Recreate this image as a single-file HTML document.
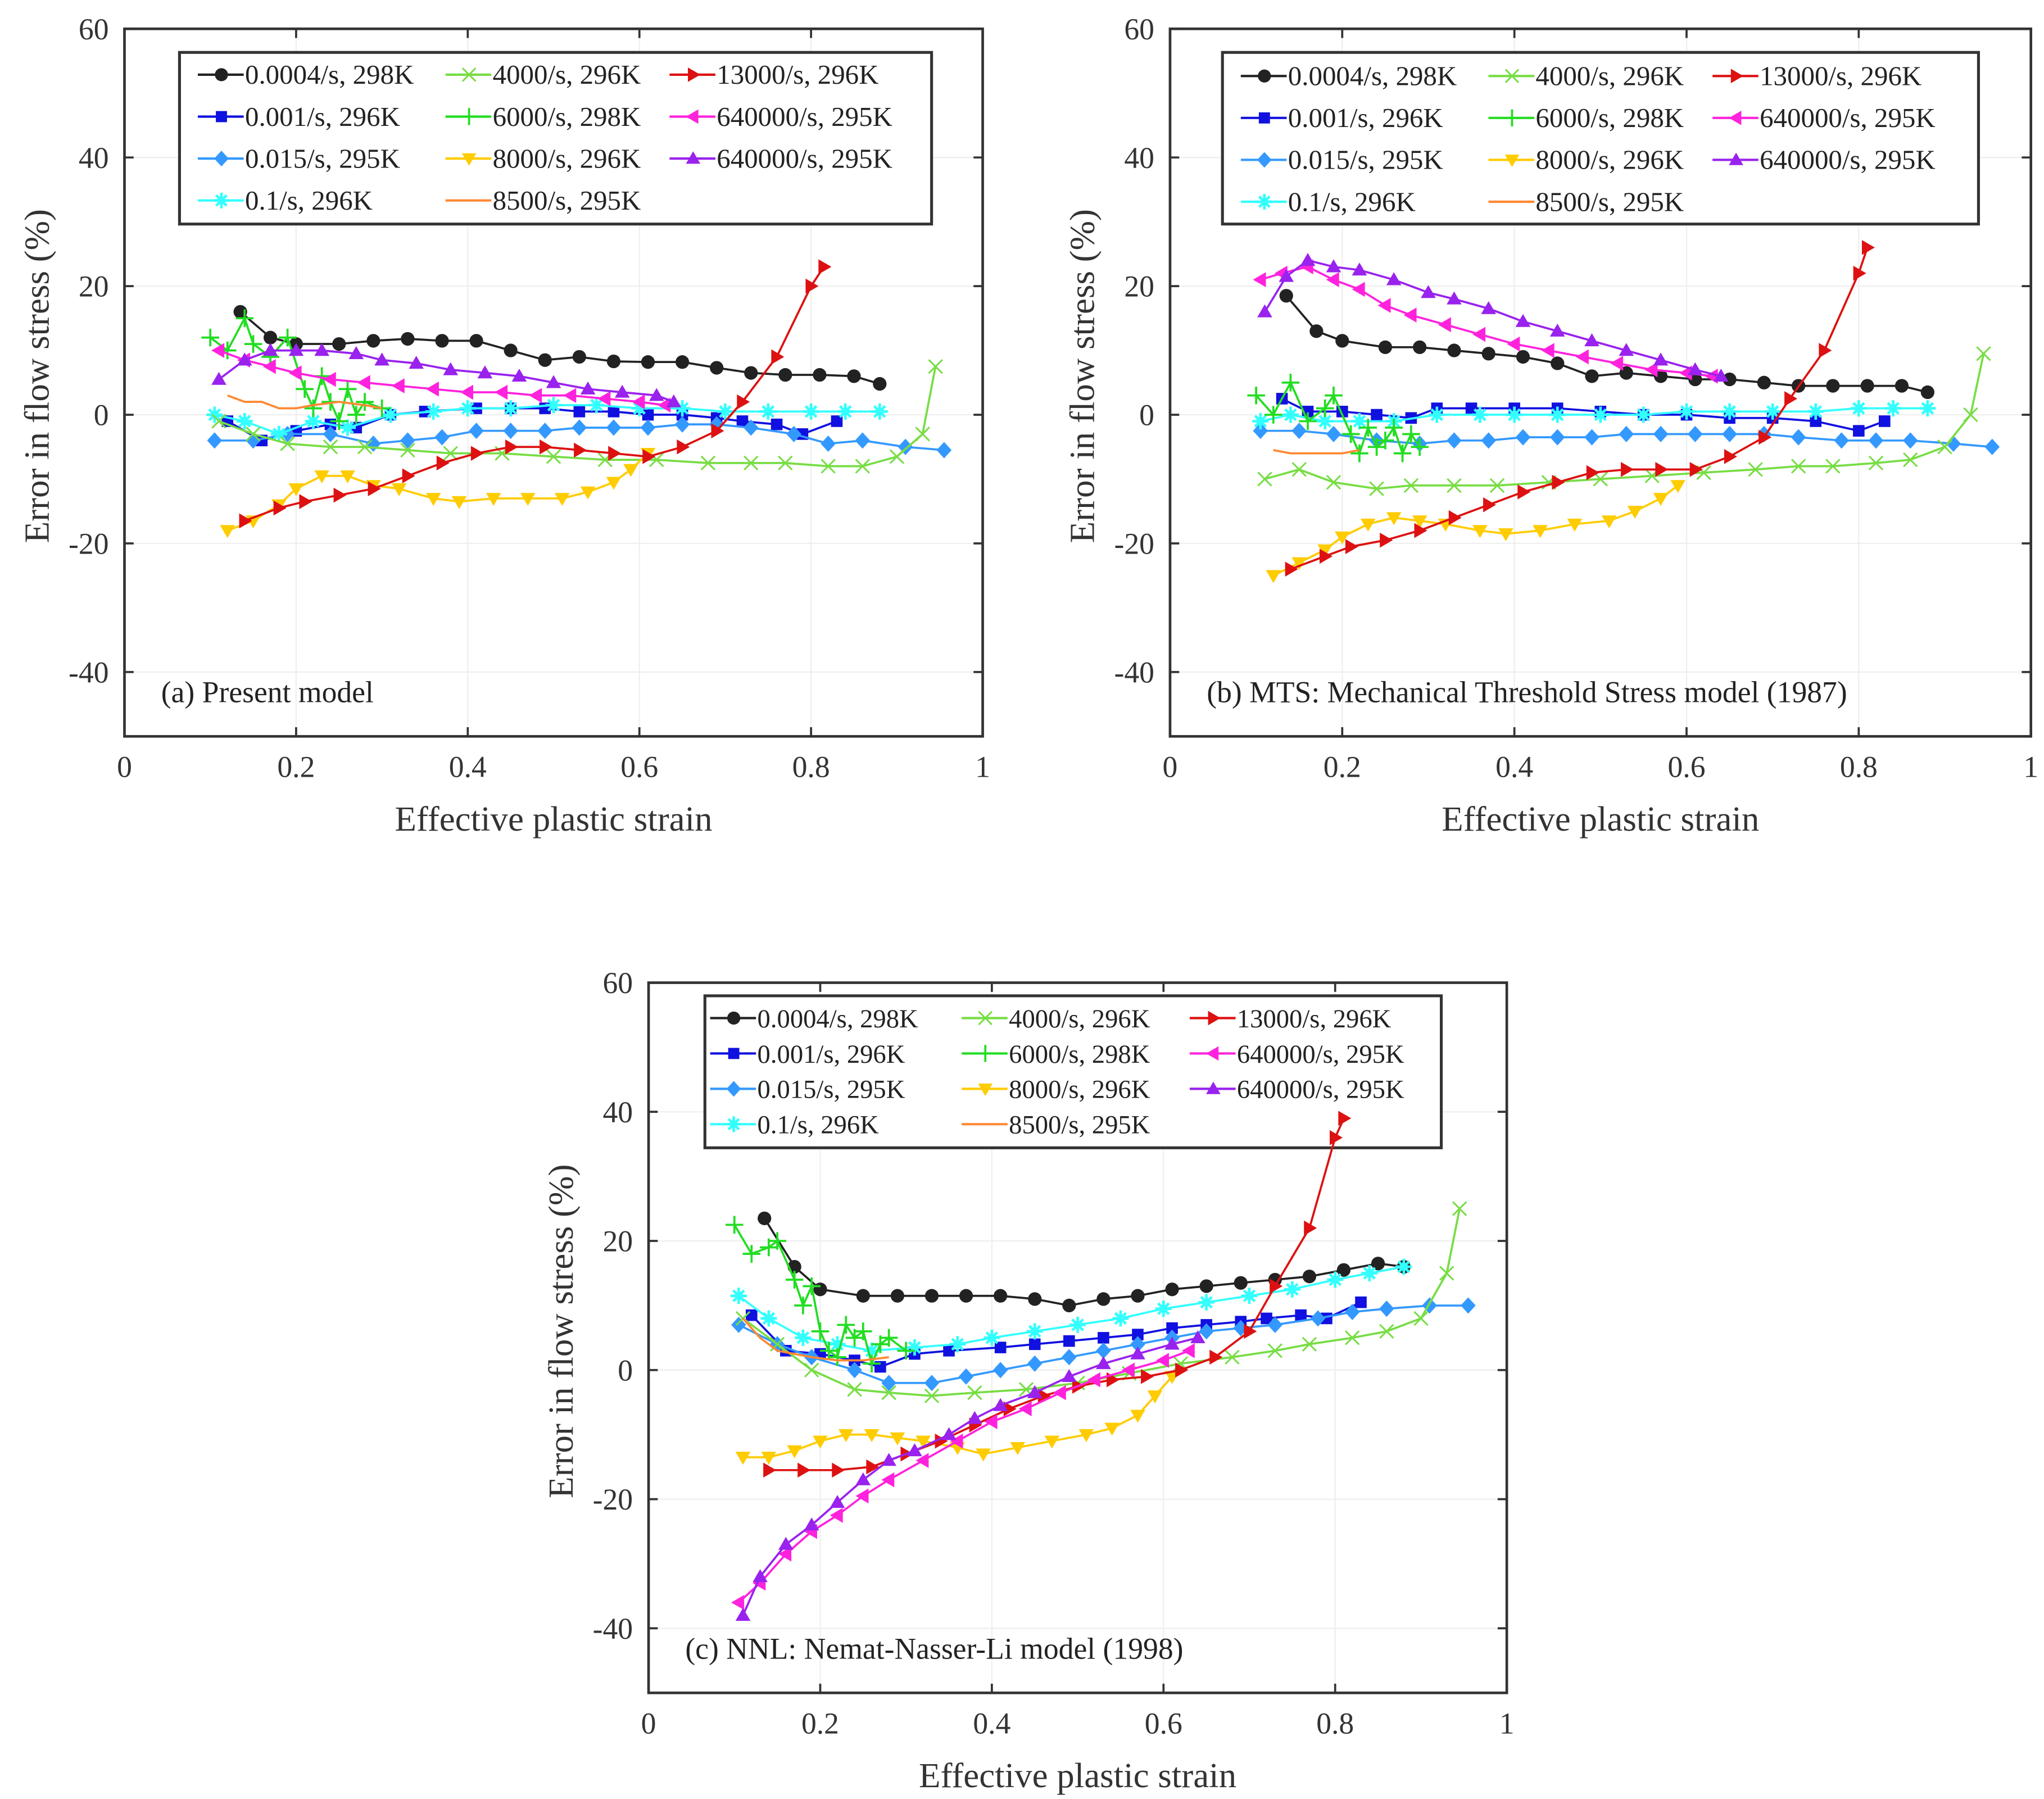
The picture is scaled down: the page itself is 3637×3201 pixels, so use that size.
<!DOCTYPE html>
<html><head><meta charset="utf-8">
<style>
html,body{margin:0;padding:0;background:#fff;}
svg{display:block;}
text{font-family:"Liberation Serif",serif;}
</style></head>
<body>
<svg id="chart" xmlns="http://www.w3.org/2000/svg" width="3637" height="3201" viewBox="0 0 1560 1373" preserveAspectRatio="none" font-family="Liberation Serif, serif"></svg>
<script>
// ---- data ----
const seriesNames = ["0.0004/s, 298K","0.001/s, 296K","0.015/s, 295K","0.1/s, 296K","4000/s, 296K","6000/s, 298K","8000/s, 296K","8500/s, 295K","13000/s, 296K","640000/s, 295K","640000/s, 295K"];
const seriesColors = ["#222222","#1010e0","#3399ff","#33ffff","#77dd44","#22dd22","#ffcc00","#ff8833","#dd1111","#ff22dd","#9922ee"];
const seriesMarkers = ["circle","square","diamond","star","x","plus","tridown","none","triright","trileft","triup"];
const xTicks = [0,0.2,0.4,0.6,0.8,1];
const xTickLabels = ["0","0.2","0.4","0.6","0.8","1"];
const yTicks = [-40,-20,0,20,40,60];
const yTickLabels = ["-40","-20","0","20","40","60"];

// panel (a) Present model
const a0 = [[0.135,16],[0.17,12],[0.2,11],[0.25,11],[0.29,11.5],[0.33,11.8],[0.37,11.5],[0.41,11.5],[0.45,10],[0.49,8.5],[0.53,9],[0.57,8.3],[0.61,8.2],[0.65,8.2],[0.69,7.3],[0.73,6.5],[0.77,6.2],[0.81,6.2],[0.85,6],[0.88,4.8]];
const a1 = [[0.12,-1],[0.16,-4],[0.2,-2.5],[0.24,-1.5],[0.27,-2],[0.31,0],[0.35,0.5],[0.41,1],[0.45,1],[0.49,1],[0.53,0.5],[0.57,0.5],[0.61,0],[0.65,0],[0.69,-0.5],[0.72,-1],[0.76,-1.5],[0.79,-3],[0.83,-1]];
const a2 = [[0.105,-4],[0.15,-4],[0.19,-3],[0.24,-3],[0.29,-4.5],[0.33,-4],[0.37,-3.5],[0.41,-2.5],[0.45,-2.5],[0.49,-2.5],[0.53,-2],[0.57,-2],[0.61,-2],[0.65,-1.5],[0.69,-1.5],[0.73,-2],[0.78,-3],[0.82,-4.5],[0.86,-4],[0.91,-5],[0.955,-5.5]];
const a3 = [[0.105,0],[0.14,-1],[0.18,-3],[0.22,-1],[0.26,-2],[0.31,0],[0.36,0.5],[0.4,1],[0.45,1],[0.5,1.5],[0.55,1.5],[0.6,1],[0.65,1],[0.7,0.5],[0.75,0.5],[0.8,0.5],[0.84,0.5],[0.88,0.5]];
const a4 = [[0.11,-1],[0.15,-3],[0.19,-4.5],[0.24,-5],[0.28,-5],[0.33,-5.5],[0.38,-6],[0.44,-6],[0.5,-6.5],[0.56,-7],[0.62,-7],[0.68,-7.5],[0.73,-7.5],[0.77,-7.5],[0.82,-8],[0.86,-8],[0.9,-6.5],[0.93,-3],[0.945,7.5]];
const a5 = [[0.1,12],[0.12,10],[0.14,15],[0.15,11],[0.17,9],[0.19,12],[0.21,4],[0.22,1],[0.23,6],[0.24,2],[0.25,-1],[0.26,4],[0.27,0],[0.28,2],[0.3,1]];
const a6 = [[0.12,-18],[0.15,-16.5],[0.18,-14],[0.2,-11.5],[0.23,-9.5],[0.26,-9.5],[0.29,-11],[0.32,-11.5],[0.36,-13],[0.39,-13.5],[0.43,-13],[0.47,-13],[0.51,-13],[0.54,-12],[0.57,-10.5],[0.59,-8.5],[0.61,-6]];
const a7 = [[0.12,3],[0.14,2],[0.16,2],[0.18,1],[0.2,1],[0.22,1.5],[0.25,2],[0.28,1.5],[0.3,1]];
const a8 = [[0.14,-16.5],[0.18,-14.5],[0.21,-13.5],[0.25,-12.5],[0.29,-11.5],[0.33,-9.5],[0.37,-7.5],[0.41,-6],[0.45,-5],[0.49,-5],[0.53,-5.5],[0.57,-6],[0.61,-6.5],[0.65,-5],[0.69,-2.5],[0.72,2],[0.76,9],[0.8,20],[0.815,23]];
const a9 = [[0.11,10],[0.14,8.5],[0.17,7.5],[0.2,6.5],[0.24,5.5],[0.28,5],[0.32,4.5],[0.36,4],[0.4,3.5],[0.44,3.5],[0.48,3],[0.52,3],[0.56,2.5],[0.6,2],[0.63,1.5]];
const a10 = [[0.11,5.5],[0.14,8.5],[0.17,10],[0.2,10],[0.23,10],[0.27,9.5],[0.3,8.5],[0.34,8],[0.38,7],[0.42,6.5],[0.46,6],[0.5,5],[0.54,4],[0.58,3.5],[0.62,3],[0.64,2]];

// panel (b) MTS
const b0 = [[0.135,18.5],[0.17,13],[0.2,11.5],[0.25,10.5],[0.29,10.5],[0.33,10],[0.37,9.5],[0.41,9],[0.45,8],[0.49,6],[0.53,6.5],[0.57,6],[0.61,5.5],[0.65,5.5],[0.69,5],[0.73,4.5],[0.77,4.5],[0.81,4.5],[0.85,4.5],[0.88,3.5]];
const b1 = [[0.13,2.5],[0.16,0.5],[0.2,0.5],[0.24,0],[0.28,-0.5],[0.31,1],[0.35,1],[0.4,1],[0.45,1],[0.5,0.5],[0.55,0],[0.6,0],[0.65,-0.5],[0.7,-0.5],[0.75,-1],[0.8,-2.5],[0.83,-1]];
const b2 = [[0.105,-2.5],[0.15,-2.5],[0.19,-3],[0.24,-4],[0.29,-4.5],[0.33,-4],[0.37,-4],[0.41,-3.5],[0.45,-3.5],[0.49,-3.5],[0.53,-3],[0.57,-3],[0.61,-3],[0.65,-3],[0.69,-3],[0.73,-3.5],[0.78,-4],[0.82,-4],[0.86,-4],[0.91,-4.5],[0.955,-5]];
const b3 = [[0.105,-1],[0.14,0],[0.18,-1],[0.22,-1],[0.26,-1],[0.31,0],[0.36,0],[0.4,0],[0.45,0],[0.5,0],[0.55,0],[0.6,0.5],[0.65,0.5],[0.7,0.5],[0.75,0.5],[0.8,1],[0.84,1],[0.88,1]];
const b4 = [[0.11,-10],[0.15,-8.5],[0.19,-10.5],[0.24,-11.5],[0.28,-11],[0.33,-11],[0.38,-11],[0.44,-10.5],[0.5,-10],[0.56,-9.5],[0.62,-9],[0.68,-8.5],[0.73,-8],[0.77,-8],[0.82,-7.5],[0.86,-7],[0.9,-5],[0.93,0],[0.945,9.5]];
const b5 = [[0.1,3],[0.12,0],[0.14,5],[0.16,-1],[0.18,1],[0.19,3],[0.21,-3],[0.22,-6],[0.23,-2],[0.24,-5],[0.25,-4],[0.26,-2],[0.27,-6],[0.28,-3],[0.29,-5]];
const b6 = [[0.12,-25],[0.15,-23],[0.18,-21],[0.2,-19],[0.23,-17],[0.26,-16],[0.29,-16.5],[0.32,-17],[0.36,-18],[0.39,-18.5],[0.43,-18],[0.47,-17],[0.51,-16.5],[0.54,-15],[0.57,-13],[0.59,-11]];
const b7 = [[0.12,-5.5],[0.14,-6],[0.16,-6],[0.18,-6],[0.2,-6],[0.22,-5.5]];
const b8 = [[0.14,-24],[0.18,-22],[0.21,-20.5],[0.25,-19.5],[0.29,-18],[0.33,-16],[0.37,-14],[0.41,-12],[0.45,-10.5],[0.49,-9],[0.53,-8.5],[0.57,-8.5],[0.61,-8.5],[0.65,-6.5],[0.69,-3.5],[0.72,2.5],[0.76,10],[0.8,22],[0.81,26]];
const b9 = [[0.105,21],[0.13,22],[0.16,23],[0.19,21],[0.22,19.5],[0.25,17],[0.28,15.5],[0.32,14],[0.36,12.5],[0.4,11],[0.44,10],[0.48,9],[0.52,8],[0.56,7],[0.6,6.5],[0.63,6]];
const b10 = [[0.11,16],[0.135,21.5],[0.16,24],[0.19,23],[0.22,22.5],[0.26,21],[0.3,19],[0.33,18],[0.37,16.5],[0.41,14.5],[0.45,13],[0.49,11.5],[0.53,10],[0.57,8.5],[0.61,7],[0.64,6]];

// panel (c) NNL
const c0 = [[0.135,23.5],[0.17,16],[0.2,12.5],[0.25,11.5],[0.29,11.5],[0.33,11.5],[0.37,11.5],[0.41,11.5],[0.45,11],[0.49,10],[0.53,11],[0.57,11.5],[0.61,12.5],[0.65,13],[0.69,13.5],[0.73,14],[0.77,14.5],[0.81,15.5],[0.85,16.5],[0.88,16]];
const c1 = [[0.12,8.5],[0.16,3],[0.2,2.5],[0.24,1.5],[0.27,0.5],[0.31,2.5],[0.35,3],[0.41,3.5],[0.45,4],[0.49,4.5],[0.53,5],[0.57,5.5],[0.61,6.5],[0.65,7],[0.69,7.5],[0.72,8],[0.76,8.5],[0.79,8],[0.83,10.5]];
const c2 = [[0.105,7],[0.15,4],[0.19,2],[0.24,0],[0.28,-2],[0.33,-2],[0.37,-1],[0.41,0],[0.45,1],[0.49,2],[0.53,3],[0.57,4],[0.61,5],[0.65,6],[0.69,6.5],[0.73,7],[0.78,8],[0.82,9],[0.86,9.5],[0.91,10],[0.955,10]];
const c3 = [[0.105,11.5],[0.14,8],[0.18,5],[0.22,4],[0.26,3],[0.31,3.5],[0.36,4],[0.4,5],[0.45,6],[0.5,7],[0.55,8],[0.6,9.5],[0.65,10.5],[0.7,11.5],[0.75,12.5],[0.8,14],[0.84,15],[0.88,16]];
const c4 = [[0.11,8],[0.15,4],[0.19,0],[0.24,-3],[0.28,-3.5],[0.33,-4],[0.38,-3.5],[0.44,-3],[0.5,-2],[0.56,-0.5],[0.62,1],[0.68,2],[0.73,3],[0.77,4],[0.82,5],[0.86,6],[0.9,8],[0.93,15],[0.945,25]];
const c5 = [[0.1,22.5],[0.12,18],[0.14,19],[0.15,20],[0.17,14],[0.18,10],[0.19,13],[0.2,6],[0.21,3],[0.22,2],[0.23,7],[0.24,5],[0.25,6],[0.26,1],[0.27,4],[0.28,5],[0.3,3]];
const c6 = [[0.11,-13.5],[0.14,-13.5],[0.17,-12.5],[0.2,-11],[0.23,-10],[0.26,-10],[0.29,-10.5],[0.32,-11],[0.36,-12],[0.39,-13],[0.43,-12],[0.47,-11],[0.51,-10],[0.54,-9],[0.57,-7],[0.59,-4],[0.61,-1]];
const c7 = [[0.11,8],[0.13,5],[0.15,3],[0.17,2.5],[0.19,2],[0.22,1.5],[0.25,1.5],[0.28,2]];
const c8 = [[0.14,-15.5],[0.18,-15.5],[0.22,-15.5],[0.26,-15],[0.3,-13],[0.34,-11],[0.38,-8.5],[0.42,-6],[0.46,-4],[0.5,-2.5],[0.54,-1.5],[0.58,-1],[0.62,0],[0.66,2],[0.7,6],[0.73,13],[0.77,22],[0.8,36],[0.81,39]];
const c9 = [[0.105,-36],[0.13,-33],[0.16,-28.5],[0.19,-25],[0.22,-22.5],[0.25,-19.5],[0.28,-17],[0.32,-14],[0.36,-11],[0.4,-8],[0.44,-6],[0.48,-3.5],[0.52,-1.5],[0.56,0],[0.6,1.5],[0.63,3]];
const c10 = [[0.11,-38],[0.13,-32],[0.16,-27],[0.19,-24],[0.22,-20.5],[0.25,-17],[0.28,-14],[0.31,-12.5],[0.35,-10],[0.38,-7.5],[0.41,-5.5],[0.45,-3.5],[0.49,-1],[0.53,1],[0.57,2.5],[0.61,4],[0.64,5]];

const panelA = [a0,a1,a2,a3,a4,a5,a6,a7,a8,a9,a10];
const panelB = [b0,b1,b2,b3,b4,b5,b6,b7,b8,b9,b10];
const panelC = [c0,c1,c2,c3,c4,c5,c6,c7,c8,c9,c10];

// ---- drawing ----
const NS = "http://www.w3.org/2000/svg";
const svg = document.getElementById('chart');
const FONT = '"Liberation Serif", serif';
function mk(tag, attrs, parent){
  const e = document.createElementNS(NS, tag);
  for (const k in attrs) e.setAttribute(k, attrs[k]);
  if (tag === 'text') e.setAttribute('font-family', FONT);
  (parent||svg).appendChild(e);
  return e;
}
function marker(g, type, x, y, color, r){
  let e = null;
  if (type === 'circle') e = mk('circle',{cx:x,cy:y,r:r,fill:color},g);
  else if (type === 'square') e = mk('rect',{x:x-r*0.85,y:y-r*0.85,width:r*1.7,height:r*1.7,fill:color},g);
  else if (type === 'diamond') e = mk('polygon',{points:`${x},${y-r*1.2} ${x+r*1.1},${y} ${x},${y+r*1.2} ${x-r*1.1},${y}`,fill:color},g);
  else if (type === 'star') { e = mk('path',{d:`M${x-r*1.2},${y}H${x+r*1.2}M${x},${y-r*1.2}V${y+r*1.2}M${x-r*0.8},${y-r*0.8}L${x+r*0.8},${y+r*0.8}M${x-r*0.8},${y+r*0.8}L${x+r*0.8},${y-r*0.8}`,stroke:color,'stroke-width':2,fill:'none'},g); mk('circle',{cx:x,cy:y,r:r*0.6,fill:color},g); }
  else if (type === 'x') e = mk('path',{d:`M${x-r},${y-r}L${x+r},${y+r}M${x-r},${y+r}L${x+r},${y-r}`,stroke:color,'stroke-width':1.3,fill:'none'},g);
  else if (type === 'plus') e = mk('path',{d:`M${x-r*1.3},${y}H${x+r*1.3}M${x},${y-r*1.3}V${y+r*1.3}`,stroke:color,'stroke-width':1.6,fill:'none'},g);
  else if (type === 'tridown') e = mk('polygon',{points:`${x-r*1.1},${y-r*0.8} ${x+r*1.1},${y-r*0.8} ${x},${y+r*1.1}`,fill:color},g);
  else if (type === 'triup') e = mk('polygon',{points:`${x-r*1.1},${y+r*0.8} ${x+r*1.1},${y+r*0.8} ${x},${y-r*1.1}`,fill:color},g);
  else if (type === 'triright') e = mk('polygon',{points:`${x-r*0.8},${y-r*1.1} ${x-r*0.8},${y+r*1.1} ${x+r*1.1},${y}`,fill:color},g);
  else if (type === 'trileft') e = mk('polygon',{points:`${x+r*0.8},${y-r*1.1} ${x+r*0.8},${y+r*1.1} ${x-r*1.1},${y}`,fill:color},g);
  return e;
}

function drawPanel(cfg){
  const {L,T,W,H,data,label,id,leg} = cfg;
  const g = mk('g',{});
  
  
  const xs = v => L + v*W;
  const ys = v => T + (60 - v)/110*H;
  // grid
  const grid = mk('g',{},g);
  
  
  xTicks.forEach(t=>{ if(t>0&&t<1) mk('line',{x1:xs(t),x2:xs(t),y1:T,y2:T+H,stroke:'#efefef','stroke-width':1},grid); });
  yTicks.forEach(t=>{ if(t<60) mk('line',{x1:L,x2:L+W,y1:ys(t),y2:ys(t),stroke:'#efefef','stroke-width':1},grid); });
  // legend (drawn below series)
  const lg = mk('g',{},g);
  
  
  mk('rect',{x:leg.x,y:leg.y,width:leg.w,height:leg.h,fill:'#fff',stroke:'#333','stroke-width':2.2},lg);
  const cols = [0,0,0,0,1,1,1,1,2,2,2];
  const rows = [0,1,2,3,0,1,2,3,0,1,2];
  seriesNames.forEach((n,i)=>{
    const e = mk('g',{},lg);
    
    
    const tx0 = leg.x + leg.cols[cols[i]];
    const yy = leg.y + leg.r0 + rows[i]*leg.dy;
    mk('line',{x1:tx0-36,x2:tx0-1,y1:yy,y2:yy,stroke:seriesColors[i],'stroke-width':1.8},e);
    if (seriesMarkers[i] !== 'none') marker(e,seriesMarkers[i],tx0-18,yy,seriesColors[i],5);
    const t = mk('text',{x:tx0,y:yy+7,'font-size':leg.fs,fill:'#222'},e);
    t.textContent = n;
  });
  // series
  data.forEach((pts,i)=>{
    const sg = mk('g',{},g);
    
    
    const d = pts.map((p,j)=>(j?'L':'M')+xs(p[0]).toFixed(1)+','+ys(p[1]).toFixed(1)).join('');
    mk('path',{d:d,fill:'none',stroke:seriesColors[i],'stroke-width':1.6},sg);
    if (seriesMarkers[i] !== 'none') pts.forEach(p=>marker(sg,seriesMarkers[i],xs(p[0]),ys(p[1]),seriesColors[i],5.2));
  });
  // frame
  const fr = mk('rect',{x:L,y:T,width:W,height:H,fill:'none',stroke:'#333','stroke-width':2},g);
  
  
  // ticks + labels
  xTicks.forEach((t,k)=>{
    mk('line',{x1:xs(t),x2:xs(t),y1:T+H,y2:T+H-7,stroke:'#333','stroke-width':1.6},g);
    mk('line',{x1:xs(t),x2:xs(t),y1:T,y2:T+7,stroke:'#333','stroke-width':1.6},g);
    const tx = mk('text',{x:xs(t),y:T+H+31,'text-anchor':'middle','font-size':23,fill:'#333'},g);
    tx.textContent = xTickLabels[k];
    
    
  });
  yTicks.forEach((t,k)=>{
    mk('line',{x1:L,x2:L+7,y1:ys(t),y2:ys(t),stroke:'#333','stroke-width':1.6},g);
    mk('line',{x1:L+W,x2:L+W-7,y1:ys(t),y2:ys(t),stroke:'#333','stroke-width':1.6},g);
    const ty = mk('text',{x:L-12,y:ys(t)+8,'text-anchor':'end','font-size':23,fill:'#333'},g);
    ty.textContent = yTickLabels[k];
    
    
  });
  const xt = mk('text',{x:L+W/2,y:T+H+72,'text-anchor':'middle','font-size':27,fill:'#333'},g);
  xt.textContent = 'Effective plastic strain';
  
  
  const yt = mk('text',{x:0,y:0,'text-anchor':'middle','font-size':27,fill:'#333',transform:`translate(${L-58},${T+H/2-5}) rotate(-90)`},g);
  yt.textContent = 'Error in flow  stress (%)';
  
  
  const an = mk('text',{x:L+28,y:T+H-26,'font-size':23,fill:'#222'},g);
  an.textContent = label;
  
  
}

drawPanel({id:'panel-a',L:95,T:22,W:655,H:540,data:panelA,label:'(a) Present model',
  leg:{x:137,y:40,w:574,h:131,cols:[50,239,410],r0:17,dy:32,fs:21}});
drawPanel({id:'panel-b',L:893,T:22,W:657,H:540,data:panelB,label:'(b) MTS: Mechanical Threshold Stress model (1987)',
  leg:{x:933,y:40,w:577,h:131,cols:[50,239,410],r0:18,dy:32,fs:21}});
drawPanel({id:'panel-c',L:495,T:750,W:655,H:542,data:panelC,label:'(c) NNL: Nemat-Nasser-Li model (1998)',
  leg:{x:538,y:760,w:562,h:116,cols:[40,232,406],r0:17,dy:27,fs:20}});
</script>
</body></html>
